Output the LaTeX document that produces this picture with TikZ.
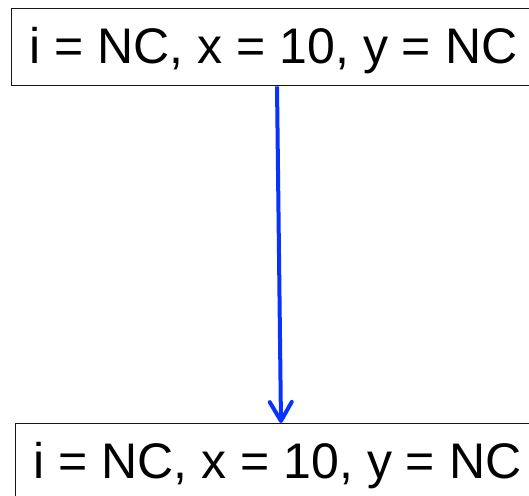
\documentclass[tikz,border=0pt]{standalone}
\usepackage{fontspec}
\setmainfont{Liberation Sans}
\usepackage{xcolor}
\usepackage{tikz}
\usetikzlibrary{positioning,arrows.meta}
\definecolor{sBlue}{RGB}{10,50,255}
\definecolor{sLine}{RGB}{20,20,20}
\tikzset{
  state/.style={rectangle, draw=sLine, line width=1.3pt, fill=white,
                inner xsep=18pt, inner ysep=20pt, text height=35pt, text depth=2pt,
                anchor=north west, font=\fontsize{50}{56}\selectfont},
  flow/.style={-{Straight Barb[length=19pt, width=22pt, round]}, draw=sBlue, line width=4pt},
}

\begin{document}
\begin{tikzpicture}[x=1pt, y=1pt]
  \useasboundingbox (0,0) rectangle (529,-495);
  \node[state] (pre) at (11,-8) {i = NC, x = 10, y = NC};
  \node[state] (post) at (15,-423) {i = NC, x = 10, y = NC};
  \draw[flow] ([xshift=266pt]pre.south west) -- ([xshift=266pt]post.north west);
\end{tikzpicture}
\end{document}
